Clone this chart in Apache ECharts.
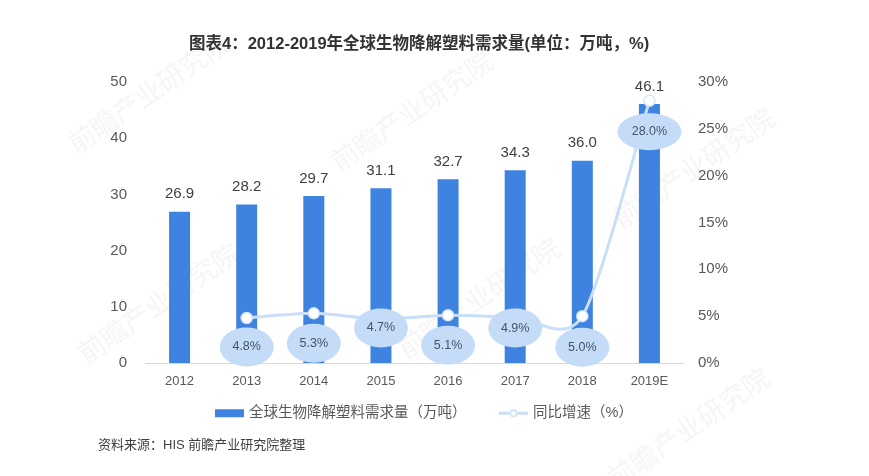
<!DOCTYPE html>
<html><head><meta charset="utf-8">
<style>html,body{margin:0;padding:0;background:#fff}#c{width:869px;height:476px}</style>
<script src="https://cdn.jsdelivr.net/npm/echarts@6/dist/echarts.min.js"></script>
</head><body><div id="c"></div>
<script>
const categories = ['2012','2013','2014','2015','2016','2017','2018','2019E'];
const demand = [26.9,28.2,29.7,31.1,32.7,34.3,36.0,46.1];
const growth = [null,4.8,5.3,4.7,5.1,4.9,5.0,28.0];
const bubbleDrop = [0,29,30,9,30,11,31,31];
const bubbleSize = [[0,0],[54,39],[54,39],[54,39],[54,39],[54,39],[54,39],[64,37]];
const leftTicks = 10, rightTicks = 5;
const titleText = '图表4：2012-2019年全球生物降解塑料需求量(单位：万吨，%)';
const sourceText = '资料来源：HIS 前瞻产业研究院整理';
const barName = '全球生物降解塑料需求量（万吨）';
const lineName = '同比增速（%）';
const font = '"Liberation Sans","Noto Sans CJK SC",sans-serif';
const wmSpots = [[150,95],[413,113],[160,305],[695,170],[480,300],[690,430]];
const lineColor = '#c9dff8';
const tension = 7.5;
const chart = echarts.init(document.getElementById('c'), null, {renderer:'canvas'});
function curveSegment(params, api){
  const i = params.dataIndex;
  if (growth[i] == null || growth[i+1] == null) return null;
  const at = k => (k < 0 || k >= growth.length || growth[k] == null) ? null : api.coord([k, growth[k]]);
  const p0 = at(i), p1 = at(i+1);
  const before = at(i-1) || p0, after = at(i+2) || p1;
  return {type:'bezierCurve',silent:true,
    shape:{x1:p0[0],y1:p0[1],x2:p1[0],y2:p1[1],
      cpx1:p0[0]+(p1[0]-before[0])/tension,cpy1:p0[1]+(p1[1]-before[1])/tension,
      cpx2:p1[0]-(after[0]-p0[0])/tension,cpy2:p1[1]-(after[1]-p0[1])/tension},
    style:{stroke:lineColor,lineWidth:3,fill:null}};
}
chart.setOption({
  animation:false,
  backgroundColor:'#fff',
  textStyle:{fontFamily:font},
  title:{text:titleText,left:189,top:36,padding:0,textStyle:{fontSize:16.5,fontWeight:'bold',color:'#333',fontFamily:font}},
  graphic:wmSpots.map(p=>({type:'text',x:p[0],y:p[1],rotation:0.6,z:-1,silent:true,
    style:{text:'前瞻产业研究院',fontSize:27,fontFamily:font,fill:'rgba(170,175,185,0.12)',align:'center',verticalAlign:'middle'}}))
    .concat([{type:'text',left:98,top:439,style:{text:sourceText,fontSize:13,fontFamily:font,fill:'#404040'}}]),
  legend:{left:215,top:406,padding:0,itemWidth:29,itemHeight:8,itemGap:31,
    data:[{name:barName,icon:'rect'},{name:lineName,lineStyle:{opacity:1,color:lineColor,width:3}}],
    textStyle:{fontSize:14.5,color:'#595959',fontFamily:font}},
  grid:{left:146,right:186,top:82,height:281},
  xAxis:{type:'category',data:categories,axisTick:{show:false},
    axisLine:{lineStyle:{color:'#d9d9d9',width:1}},
    axisLabel:{fontSize:13,color:'#595959',margin:12}},
  yAxis:[
    {type:'value',min:0,max:50,interval:leftTicks,splitLine:{show:false},axisLine:{show:false},axisTick:{show:false},
     axisLabel:{fontSize:15,color:'#595959',margin:19}},
    {type:'value',min:0,max:30,interval:rightTicks,position:'right',splitLine:{show:false},axisLine:{show:false},axisTick:{show:false},
     axisLabel:{fontSize:15,color:'#595959',margin:15,padding:[2,0,0,0],formatter:'{value}%'}}
  ],
  series:[
    {name:barName,type:'bar',data:demand,barWidth:21,itemStyle:{color:'#3f83e0'},z:2,
     label:{show:true,position:'top',distance:10,fontSize:15,color:'#404040',formatter:p=>p.value.toFixed(1)}},
    {name:'curve',type:'custom',yAxisIndex:1,z:3,renderItem:curveSegment,clip:false,
     data:growth.map((v,i)=>[i,v==null?0:v]),encode:{x:0,y:1}},
    {name:lineName,type:'line',yAxisIndex:1,data:growth,symbol:'circle',symbolSize:11,showSymbol:true,
     lineStyle:{color:lineColor,width:3,opacity:0},itemStyle:{color:'#fff',borderColor:'#d5e5fa',borderWidth:1.5},z:3.5},
    {name:'bubbles',type:'scatter',yAxisIndex:1,z:4,symbol:'circle',
     data:growth.map((v,i)=>v===null?null:({value:v,symbolOffset:[0,bubbleDrop[i]],symbolSize:bubbleSize[i]})),
     itemStyle:{color:'#c5dcf8',opacity:1},
     label:{show:true,position:'inside',fontSize:12.5,color:'#44546a',formatter:p=>Number(Array.isArray(p.value)?p.value[1]:p.value).toFixed(1)+'%'}}
  ]
});
</script></body></html>
